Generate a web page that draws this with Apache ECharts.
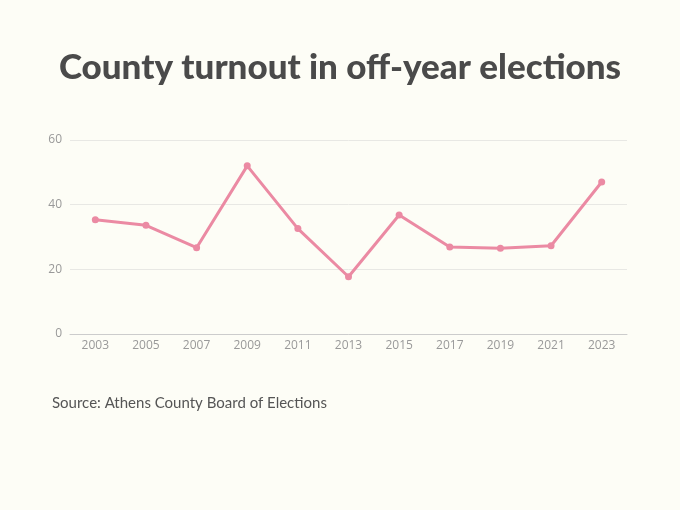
<!DOCTYPE html>
<html>
<head>
<meta charset="utf-8">
<script src="https://cdn.jsdelivr.net/npm/echarts@6/dist/echarts.min.js"></script>
<style>
  html, body { margin: 0; padding: 0; background: #fdfdf6; }
  #main { width: 680px; height: 510px; }
</style>
</head>
<body>
<div id="main"></div>
<script>
// off-year election turnout, Athens County (%)
var years = ['2003', '2005', '2007', '2009', '2011', '2013', '2015', '2017', '2019', '2021', '2023'];
var turnout = [35.3, 33.6, 26.7, 52.0, 32.6, 17.7, 36.8, 26.9, 26.5, 27.3, 47.0];
var yTicks = [0, 20, 40, 60];

var myChart = echarts.init(document.getElementById('main'));
var option = {
    backgroundColor: '#fdfdf6',
    title: [{
        text: 'County turnout in off-year elections',
        left: 'center',
        top: 50,
        padding: 0,
        textStyle: {
            fontFamily: 'Lato',
            fontWeight: 900,
            fontSize: 35,
            color: '#4a4a4a'
        }
    }, {
        text: 'Source: Athens County Board of Elections',
        left: 52,
        top: 396,
        padding: 0,
        textStyle: {
            fontFamily: 'Lato',
            fontWeight: 'normal',
            fontSize: 15,
            color: '#555555'
        }
    }],
    grid: {
        left: 70,
        right: 53,
        top: 140,
        bottom: 176
    },
    xAxis: {
        type: 'category',
        data: years,
        boundaryGap: true,
        axisLine: { lineStyle: { color: '#cccccc' } },
        axisTick: { show: false },
        axisLabel: {
            color: '#999999',
            fontFamily: 'Open Sans',
            fontSize: 12,
            margin: 6
        }
    },
    yAxis: {
        type: 'value',
        min: yTicks[0],
        max: yTicks[yTicks.length - 1],
        interval: 20,
        axisLine: { show: false },
        axisTick: { show: false },
        splitLine: { lineStyle: { color: '#e8e8e4' } },
        axisLabel: {
            color: '#999999',
            fontFamily: 'Open Sans',
            fontSize: 12,
            margin: 8
        }
    },
    series: [{
        name: 'Turnout',
        type: 'line',
        data: turnout,
        symbol: 'circle',
        symbolSize: 7,
        lineStyle: { color: '#eb8aa3', width: 3 },
        itemStyle: { color: '#eb8aa3' }
    }]
};
myChart.setOption(option);
</script>
</body>
</html>
